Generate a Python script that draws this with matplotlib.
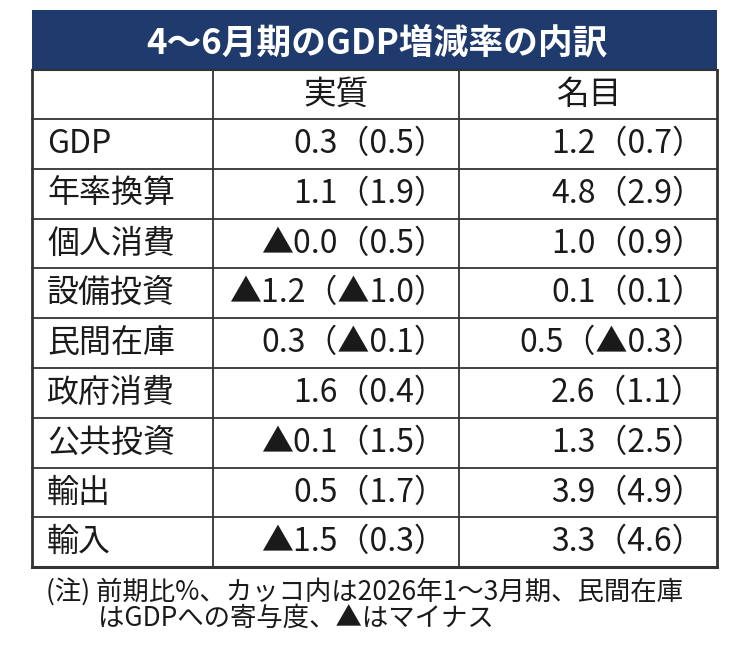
import matplotlib.pyplot as plt
from matplotlib.patches import Rectangle

plt.rcParams['font.family'] = ['Noto Sans CJK JP', 'DejaVu Sans']

title = '4～6月期のGDP増減率の内訳'
col_heads = ['実質', '名目']
row_labels = ['GDP', '年率換算', '個人消費', '設備投資', '民間在庫',
              '政府消費', '公共投資', '輸出', '輸入']
real_vals = ['0.3（0.5）', '1.1（1.9）', '▲0.0（0.5）', '▲1.2（▲1.0）', '0.3（▲0.1）',
             '1.6（0.4）', '▲0.1（1.5）', '0.5（1.7）', '▲1.5（0.3）']
nominal_vals = ['1.2（0.7）', '4.8（2.9）', '1.0（0.9）', '0.1（0.1）', '0.5（▲0.3）',
                '2.6（1.1）', '1.3（2.5）', '3.9（4.9）', '3.3（4.6）']
note_lines = ['(注) 前期比%、カッコ内は2026年1～3月期、民間在庫',
              'はGDPへの寄与度、▲はマイナス']

navy = '#1f3a6c'
line_col = '#333333'
txt_col = '#1a1a1a'

fig = plt.figure(figsize=(7.5, 6.65), dpi=100)
ax = fig.add_axes([0, 0, 1, 1])
ax.set_xlim(0, 750)
ax.set_ylim(665, 0)
ax.axis('off')

# table geometry in pixels
left, right = 32, 717
div1, div2 = 213, 459
head_top, head_bot = 10, 70
sub_bot = 119
row_h = 49.8
n = len(row_labels)
table_bot = sub_bot + row_h * n

# title band
ax.add_patch(Rectangle((left, head_top), right - left, head_bot - head_top,
                       facecolor=navy, edgecolor='none'))
ax.text((left + right) / 2 + 2, (head_top + head_bot) / 2 + 3, title, color='white',
        fontsize=25, fontweight='bold', ha='center', va='center')

# grid lines
ax.plot([left, left], [head_bot, table_bot], color=line_col, lw=2)
ax.plot([right, right], [head_bot, table_bot], color=line_col, lw=2)
ax.plot([left, right], [table_bot, table_bot], color=line_col, lw=2.2)
ax.plot([left, right], [head_bot, head_bot], color=line_col, lw=1.5)
for x in (div1, div2):
    ax.plot([x, x], [head_bot, table_bot], color=line_col, lw=1.3)
for i in range(n):
    y = sub_bot + row_h * i
    ax.plot([left, right], [y, y], color=line_col, lw=1.3)

# column heads
ax.text((div1 + div2) / 2, (head_bot + sub_bot) / 2, col_heads[0],
        fontsize=23.5, ha='center', va='center', color=txt_col)
ax.text((div2 + right) / 2 + 2, (head_bot + sub_bot) / 2, col_heads[1],
        fontsize=23.5, ha='center', va='center', color=txt_col)

# body
for i, (lab, rv, nv) in enumerate(zip(row_labels, real_vals, nominal_vals)):
    yc = sub_bot + row_h * (i + 0.5)
    ax.text(47, yc, lab, fontsize=23, ha='left', va='center', color=txt_col)
    ax.text(446, yc, rv, fontsize=23, ha='right', va='center', color=txt_col)
    ax.text(704, yc, nv, fontsize=23, ha='right', va='center', color=txt_col)

# footnote
ax.text(46, 592, note_lines[0], fontsize=19, ha='left', va='center', color=txt_col)
ax.text(98, 618, note_lines[1], fontsize=19, ha='left', va='center', color=txt_col)

fig.savefig('out.png', dpi=100, facecolor='white')
